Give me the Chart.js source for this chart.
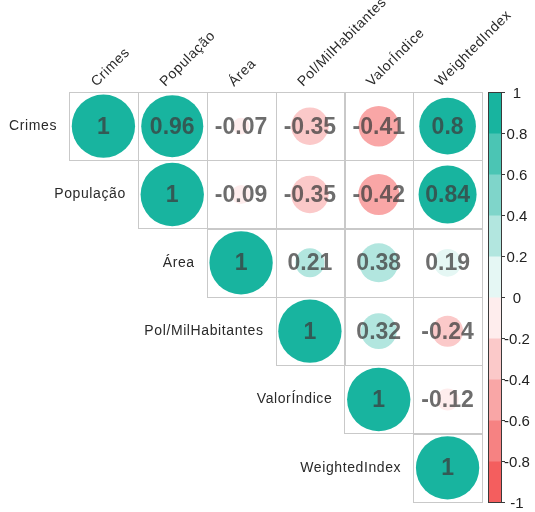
<!DOCTYPE html>
<html>
<head>
<meta charset="utf-8">
<script src="https://cdn.jsdelivr.net/npm/chart.js@4"></script>
<style>
  html, body { margin: 0; padding: 0; background: #fff; }
  #wrap { width: 535px; height: 512px; }
</style>
</head>
<body>
<div id="wrap"><canvas id="corrChart"></canvas></div>
<script>
// variable names (columns and rows)
var varNames = ["Crimes", "População", "Área", "Pol/MilHabitantes", "ValorÍndice", "WeightedIndex"];

// upper triangle of the correlation matrix, one array per row
var rowCrimes = [1, 0.96, -0.07, -0.35, -0.41, 0.8];
var rowPopulacao = [1, -0.09, -0.35, -0.42, 0.84];
var rowArea = [1, 0.21, 0.38, 0.19];
var rowPolMil = [1, 0.32, -0.24];
var rowValor = [1, -0.12];
var rowWeighted = [1];

// colour legend ticks
var legendTicks = [1, 0.8, 0.6, 0.4, 0.2, 0, -0.2, -0.4, -0.6, -0.8, -1];

var rows = [rowCrimes, rowPopulacao, rowArea, rowPolMil, rowValor, rowWeighted];

var negColor = [244, 94, 94];
var posColor = [24, 180, 159];

// 10 discrete bins, like the legend
function binColor(v) {
    var i = Math.floor((v + 1) / 0.2 + 1e-9);
    if (i > 9) i = 9;
    if (i < 0) i = 0;
    var t = i / 9;
    var c, f;
    if (t < 0.5) { c = negColor; f = 1 - t / 0.5; }
    else { c = posColor; f = (t - 0.5) / 0.5; }
    var r = Math.round(255 + (c[0] - 255) * f);
    var g = Math.round(255 + (c[1] - 255) * f);
    var b = Math.round(255 + (c[2] - 255) * f);
    return 'rgb(' + r + ',' + g + ',' + b + ')';
}

// build the points: row i starts at the diagonal
var points = [];
for (var i = 0; i < rows.length; i++) {
    for (var k = 0; k < rows[i].length; k++) {
        var j = i + k;
        points.push({ x: j + 0.5, y: i + 0.5, v: rows[i][k] });
    }
}

function cellSize(chart) {
    var xs = chart.scales.x;
    return Math.abs(xs.getPixelForValue(1) - xs.getPixelForValue(0));
}

var corrPlugin = {
    id: 'corrPlugin',
    beforeDatasetsDraw: function (chart) {
        var ctx = chart.ctx;
        var xs = chart.scales.x, ys = chart.scales.y;
        ctx.save();
        ctx.strokeStyle = '#c9c9c9';
        ctx.lineWidth = 1;
        points.forEach(function (p) {
            var x0 = xs.getPixelForValue(p.x - 0.5), x1 = xs.getPixelForValue(p.x + 0.5);
            var y0 = ys.getPixelForValue(p.y - 0.5), y1 = ys.getPixelForValue(p.y + 0.5);
            ctx.strokeRect(Math.round(x0) + 0.5, Math.round(y0) + 0.5, Math.round(x1 - x0), Math.round(y1 - y0));
        });
        ctx.restore();
    },
    afterDatasetsDraw: function (chart) {
        var ctx = chart.ctx;
        var meta = chart.getDatasetMeta(0);
        ctx.save();
        // numbers in the cells
        ctx.font = 'bold 23px "Liberation Sans", Arial, sans-serif';
        ctx.fillStyle = 'rgba(60,60,60,0.75)';
        ctx.textAlign = 'center';
        ctx.textBaseline = 'middle';
        meta.data.forEach(function (el, idx) {
            ctx.fillText(String(points[idx].v), el.x, el.y + 1);
        });

        var xs = chart.scales.x, ys = chart.scales.y;
        ctx.font = '14px "Liberation Sans", Arial, sans-serif';
        ctx.fillStyle = '#2a2a2a';
        if ('letterSpacing' in ctx) ctx.letterSpacing = '0.6px';
        // row labels, right aligned left of the diagonal cell
        ctx.textAlign = 'right';
        ctx.textBaseline = 'middle';
        varNames.forEach(function (name, i) {
            var x = xs.getPixelForValue(i) - 12;
            var y = ys.getPixelForValue(i + 0.5);
            ctx.fillText(name, x, y);
        });
        // column labels, rotated 45 degrees
        ctx.textAlign = 'left';
        ctx.textBaseline = 'alphabetic';
        varNames.forEach(function (name, j) {
            var x = xs.getPixelForValue(j + 0.5) - 7;
            var y = ys.getPixelForValue(0) - 5;
            ctx.save();
            ctx.translate(x, y);
            ctx.rotate(-Math.PI / 4);
            ctx.fillText(name, 0, 0);
            ctx.restore();
        });
        if ('letterSpacing' in ctx) ctx.letterSpacing = '0px';

        // colour legend
        var cb = chart.scales.cb;
        var bx0 = 488, bx1 = 501;
        for (var v = -1; v < 0.999; v += 0.2) {
            var yTop = cb.getPixelForValue(v + 0.2), yBot = cb.getPixelForValue(v);
            ctx.fillStyle = binColor(v + 0.1);
            ctx.fillRect(bx0, yTop, bx1 - bx0, yBot - yTop + 0.5);
        }
        ctx.strokeStyle = '#3a3a3a';
        ctx.lineWidth = 1;
        ctx.strokeRect(bx0 + 0.5, cb.getPixelForValue(1) + 0.5, bx1 - bx0, cb.getPixelForValue(-1) - cb.getPixelForValue(1));
        ctx.font = '15px "Liberation Sans", Arial, sans-serif';
        ctx.fillStyle = '#222';
        ctx.textAlign = 'center';
        ctx.textBaseline = 'middle';
        legendTicks.forEach(function (t) {
            var y = Math.round(cb.getPixelForValue(t)) + 0.5;
            ctx.beginPath();
            ctx.moveTo(bx1, y);
            ctx.lineTo(bx1 + 4, y);
            ctx.stroke();
            ctx.fillText(String(t), 517, y + 1);
        });
        ctx.restore();
    }
};

var ctxC = document.getElementById('corrChart').getContext('2d');
var corrChart = new Chart(ctxC, {
    type: 'scatter',
    data: {
        datasets: [{
            data: points,
            pointBackgroundColor: function (c) { return c.raw ? binColor(c.raw.v) : '#fff'; },
            pointBorderWidth: 0,
            pointRadius: function (c) {
                if (!c.raw) return 0;
                var s = cellSize(c.chart);
                return Math.sqrt(Math.abs(c.raw.v)) * s * 0.46;
            },
            showLine: false,
            clip: false
        }]
    },
    options: {
        responsive: true,
        maintainAspectRatio: false,
        animation: false,
        events: [],
        layout: {
            autoPadding: false,
            padding: { left: 69, top: 92, right: 53, bottom: 10 }
        },
        scales: {
            x: { type: 'linear', min: 0, max: 6, display: false },
            y: { type: 'linear', min: 0, max: 6, reverse: true, display: false },
            cb: { type: 'linear', axis: 'y', min: -1, max: 1, display: false }
        },
        plugins: {
            legend: { display: false },
            tooltip: { enabled: false }
        }
    },
    plugins: [corrPlugin]
});
</script>
</body>
</html>
